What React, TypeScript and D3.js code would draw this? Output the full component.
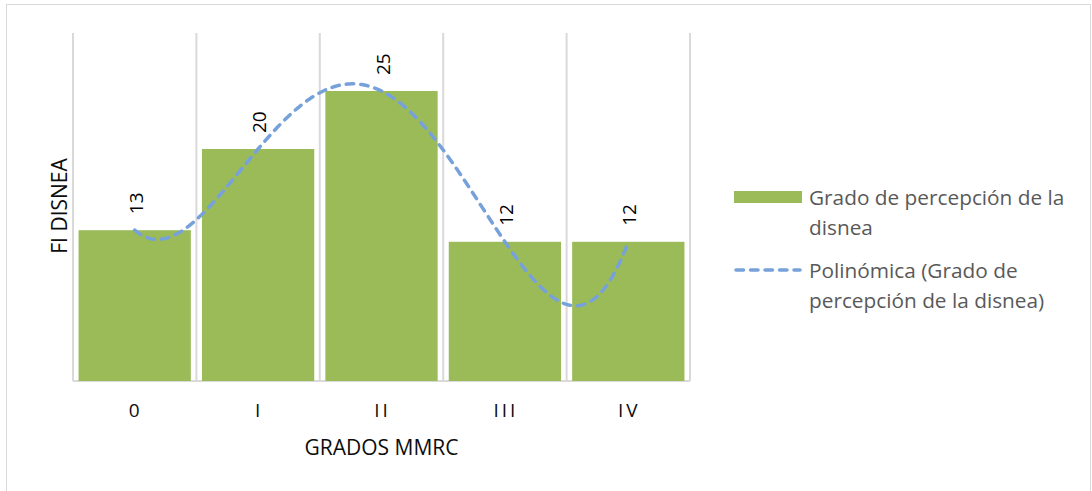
import React, { useRef, useEffect } from 'react';
import * as d3 from 'd3';

const categories = ['0', 'I', 'II', 'III', 'IV'];
const values = [13, 20, 25, 12, 12];
const seriesName = ['Grado de percepción de la', 'disnea'];
const trendName = ['Polinómica (Grado de', 'percepción de la disnea)'];
const xTitle = 'GRADOS MMRC';
const yTitle = 'FI DISNEA';

// degree-4 polynomial trendline through (1..n, values) - Lagrange form
const polyAt = (xs: number[], ys: number[], t: number) => {
    let s = 0;
    for (let i = 0; i < xs.length; i++) {
        let l = 1;
        for (let j = 0; j < xs.length; j++) {
            if (j !== i) l *= (t - xs[j]) / (xs[i] - xs[j]);
        }
        s += ys[i] * l;
    }
    return s;
};

const App = () => {
    const ref = useRef<SVGSVGElement>(null);

    useEffect(() => {
        const width = 1092;
        const height = 491;
        const font = '"Open Sans", sans-serif';
        const left = 73, right = 690, top = 33, bottom = 381;

        const svg = d3.select(ref.current);
        svg.selectAll('*').remove();
        svg.attr('width', width).attr('height', height);

        svg.append('rect')
            .attr('x', 6.5).attr('y', 4.5)
            .attr('width', 1084).attr('height', 520)
            .attr('fill', 'white')
            .attr('stroke', '#D9D9D9');

        const x = d3.scaleBand()
            .domain(categories)
            .range([left, right])
            .paddingInner(0.09)
            .paddingOuter(0.045);
        const bounds = d3.scaleLinear().domain([0, categories.length]).range([left, right]);
        const y = d3.scaleLinear().domain([0, 30]).range([bottom, top]);

        // vertical gridlines at category boundaries
        svg.append('g')
            .selectAll('line')
            .data(d3.range(categories.length + 1))
            .enter().append('line')
            .attr('x1', d => bounds(d)).attr('x2', d => bounds(d))
            .attr('y1', top).attr('y2', bottom)
            .attr('stroke', '#D9D9D9')
            .attr('stroke-width', 2);

        svg.append('line')
            .attr('x1', left).attr('x2', right)
            .attr('y1', bottom).attr('y2', bottom)
            .attr('stroke', '#D9D9D9')
            .attr('stroke-width', 2);

        svg.append('g')
            .selectAll('rect')
            .data(values)
            .enter().append('rect')
            .attr('x', (d, i) => x(categories[i]))
            .attr('y', d => y(d))
            .attr('width', x.bandwidth())
            .attr('height', d => bottom - y(d))
            .attr('fill', '#9BBB59');

        // trendline
        const xs = categories.map((c, i) => i + 1);
        const pos = d3.scaleLinear().domain([1, categories.length])
            .range([x(categories[0]) + x.bandwidth() / 2, x(categories[categories.length - 1]) + x.bandwidth() / 2]);
        const ts = d3.range(1, categories.length + 0.001, 0.02);
        const line = d3.line<number>()
            .x(t => pos(t))
            .y(t => y(polyAt(xs, values, t)))
            .curve(d3.curveLinear);
        svg.append('path')
            .datum(ts)
            .attr('d', line)
            .attr('fill', 'none')
            .attr('stroke', '#77A1DA')
            .attr('stroke-width', 3.5)
            .attr('stroke-linecap', 'round')
            .attr('stroke-dasharray', '7.5,7');

        // data labels
        svg.append('g')
            .selectAll('text')
            .data(values)
            .enter().append('text')
            .attr('transform', (d, i) => `translate(${x(categories[i]) + x.bandwidth() / 2 + 8},${y(d) - 16}) rotate(-90)`)
            .attr('font-family', font)
            .attr('font-size', 19)
            .attr('fill', '#000')
            .text(d => d);

        // tick labels
        svg.append('g')
            .selectAll('text')
            .data(categories)
            .enter().append('text')
            .attr('x', d => x(d) + x.bandwidth() / 2 + 1)
            .attr('y', 417)
            .attr('text-anchor', 'middle')
            .attr('font-family', font)
            .attr('font-size', 19)
            .attr('letter-spacing', 3)
            .attr('fill', '#0d0d0d')
            .text(d => d);

        svg.append('text')
            .attr('x', (left + right) / 2)
            .attr('y', 455)
            .attr('text-anchor', 'middle')
            .attr('font-family', font)
            .attr('font-size', 21)
            .attr('fill', '#0d0d0d')
            .text(xTitle);

        svg.append('text')
            .attr('transform', `translate(67,${(top + bottom) / 2 - 1}) rotate(-90)`)
            .attr('text-anchor', 'middle')
            .attr('font-family', font)
            .attr('font-size', 21)
            .attr('fill', '#0d0d0d')
            .text(yTitle);

        // legend
        const lg = svg.append('g');
        lg.append('rect')
            .attr('x', 734).attr('y', 191)
            .attr('width', 68).attr('height', 12)
            .attr('fill', '#9BBB59');
        lg.append('line')
            .attr('x1', 736).attr('x2', 800)
            .attr('y1', 270).attr('y2', 270)
            .attr('stroke', '#77A1DA')
            .attr('stroke-width', 3.5)
            .attr('stroke-linecap', 'round')
            .attr('stroke-dasharray', '7.5,7');

        const legendText = (lines: string[], y0: number) => {
            lg.append('g')
                .selectAll('text')
                .data(lines)
                .enter().append('text')
                .attr('x', 809)
                .attr('y', (d, i) => y0 + i * 30)
                .attr('font-family', font)
                .attr('font-size', 20.8)
                .attr('fill', '#595959')
                .text(d => d);
        };
        legendText(seriesName, 205);
        legendText(trendName, 278);
    }, []);

    return (
        <svg ref={ref} style={{ position: 'absolute', left: 0, top: 0 }}></svg>
    );
};

export default App;
